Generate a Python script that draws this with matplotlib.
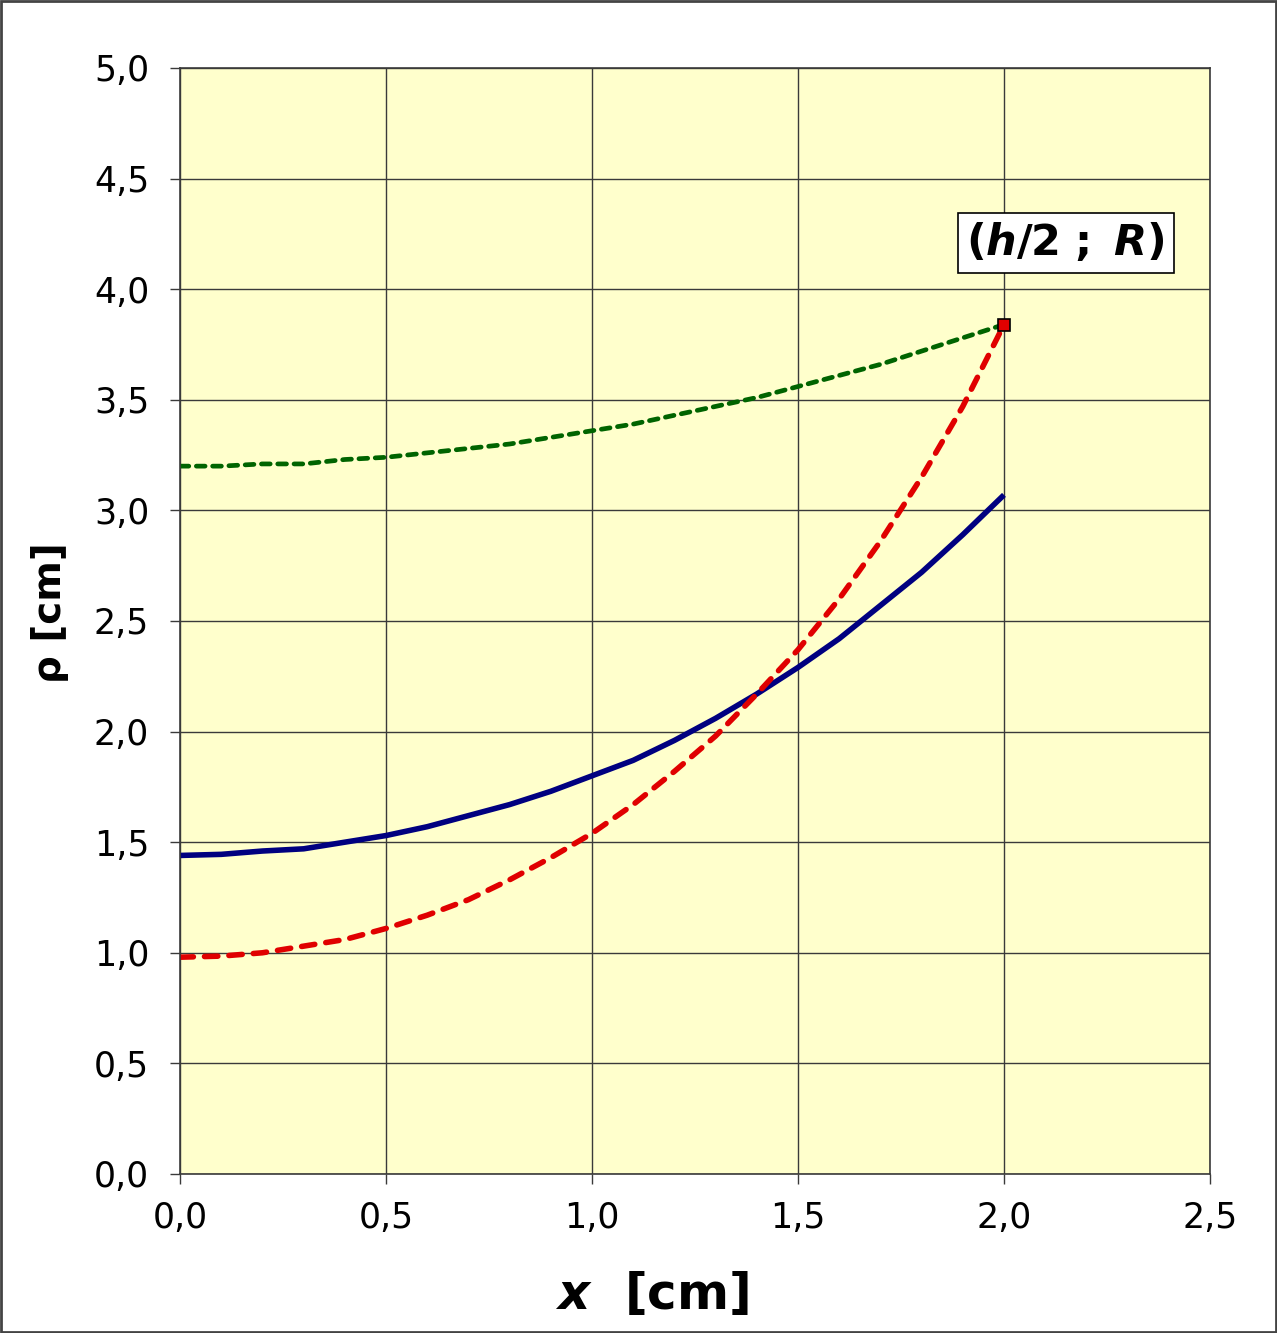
import matplotlib
matplotlib.use("Agg")
import matplotlib.pyplot as plt
from matplotlib.patches import Rectangle
from matplotlib.ticker import FuncFormatter, MultipleLocator

plt.rcParams['font.family'] = ['DejaVu Sans']
plt.rcParams['mathtext.fontset'] = 'dejavusans'

# valeurs
x_vals = [0.0, 0.1, 0.2, 0.3, 0.4, 0.5, 0.6, 0.7, 0.8, 0.9, 1.0,
          1.1, 1.2, 1.3, 1.4, 1.5, 1.6, 1.7, 1.8, 1.9, 2.0]
rho_vert = [3.20, 3.20, 3.21, 3.21, 3.23, 3.24, 3.26, 3.28, 3.30, 3.33, 3.36,
            3.39, 3.43, 3.47, 3.51, 3.56, 3.61, 3.66, 3.72, 3.78, 3.84]
rho_bleu = [1.44, 1.445, 1.46, 1.47, 1.50, 1.53, 1.57, 1.62, 1.67, 1.73, 1.80,
            1.87, 1.96, 2.06, 2.17, 2.29, 2.42, 2.57, 2.72, 2.89, 3.07]
rho_rouge = [0.98, 0.985, 1.00, 1.03, 1.06, 1.11, 1.17, 1.24, 1.33, 1.43, 1.54,
             1.67, 1.82, 1.98, 2.17, 2.37, 2.60, 2.86, 3.15, 3.47, 3.84]
point_x, point_y = 2.0, 3.84

fig = plt.figure(figsize=(12.77, 13.33), dpi=100)
ax = fig.add_axes([0.141, 0.1193, 0.8065, 0.8297])
ax.set_facecolor('#FFFFCC')

ax.plot(x_vals, rho_vert, color='#006400', lw=3.4, ls=(0, (1.85, 1.6)),
        dash_capstyle='round')
ax.plot(x_vals, rho_bleu, color='#000080', lw=4.0, solid_capstyle='butt')
ax.plot(x_vals, rho_rouge, color='#E00000', lw=4.0, ls=(0, (2.4, 2.0)),
        dash_capstyle='round')
ax.plot([point_x], [point_y], marker='s', ms=8, mfc='#E00000', mec='black',
        mew=1.2, zorder=5)

ax.set_xlim(0, 2.5)
ax.set_ylim(0, 5)
ax.xaxis.set_major_locator(MultipleLocator(0.5))
ax.yaxis.set_major_locator(MultipleLocator(0.5))
fmt = FuncFormatter(lambda v, p: f"{v:.1f}".replace('.', ','))
ax.xaxis.set_major_formatter(fmt)
ax.yaxis.set_major_formatter(fmt)
ax.grid(True, color='#3a3a3a', lw=1.0)
ax.set_axisbelow(True)
for s in ax.spines.values():
    s.set_color('#3a3a3a')
    s.set_linewidth(1.2)
ax.tick_params(direction='out', length=7.2, width=1.0, color='#3a3a3a',
               labelsize=25)
ax.tick_params(axis='y', pad=15)
ax.tick_params(axis='x', pad=12)

ax.set_ylabel('ρ [cm]', fontsize=28, fontweight='bold')
ax.yaxis.set_label_coords(-0.108, 0.508)
ax.set_xlabel(r'$\mathbfit{x}$  [cm]', fontsize=36, fontweight='bold')
ax.xaxis.set_label_coords(0.458, -0.088)

ax.text(2.15, 4.21, r'$\mathbf{(}\mathbfit{h}\mathbf{/2\ ;\ }\mathbfit{R}\mathbf{)}$',
        fontsize=31, ha='center', va='center', zorder=6,
        bbox=dict(boxstyle='square,pad=0.2', fc='white', ec='black', lw=1.2))

fig.patches.append(Rectangle((0.001, 0.001), 0.998, 0.998,
                             transform=fig.transFigure, fill=False,
                             ec='#444444', lw=2))

fig.savefig('out.png', dpi=100)
